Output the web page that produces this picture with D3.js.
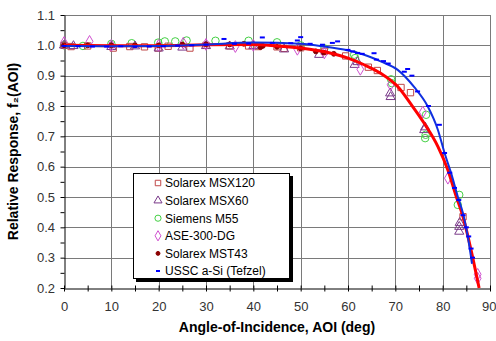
<!DOCTYPE html>
<html>
<head>
<meta charset="utf-8">
<script src="https://cdn.jsdelivr.net/npm/d3@7"></script>
<style>
  body { margin: 0; background: #fff; }
  svg { font-family: "Liberation Sans", Arial, sans-serif; }
</style>
</head>
<body>
<svg width="496" height="341"></svg>
<script>
var msx120 = [[0,1.0],[1.5,0.996],[5,0.998],[10.4,0.991],[13.9,0.996],[17,0.995],[19.9,0.991],[22,0.997],
  [26.6,0.991],[30,1.0],[35,0.998],[39,0.998],[41,0.996],[45,0.995],[46.5,0.99],[50,0.992],[55,0.98],
  [59.5,0.965],[64.3,0.928],[66.2,0.917],[71.2,0.861],[73.2,0.844],[84.3,0.435]];
var msx60 = [[0,1.0],[2,0.998],[10,0.995],[15,0.997],[20,0.99],[25,0.993],[30,0.998],[35,0.997],[40,0.998],
  [46.5,0.987],[53.9,0.969],[61.4,0.936],[62,0.945],[68.9,0.842],[69,0.83],[76.1,0.721],[76.3,0.73],
  [83.5,0.402],[83.5,0.386],[83.6,0.415]];
var m55 = [[0,1.0],[4,0.998],[10,1.005],[14.3,1.007],[19.9,1.009],[21.3,1.013],[23.5,1.013],[25.9,1.016],
  [32,1.015],[39,1.015],[45,1.01],[50,1.0],[55,0.99],[61.3,0.969],[61.5,0.958],[69.1,0.888],[69.3,0.875],
  [76.5,0.771],[76.3,0.694],[76.4,0.705],[83.5,0.507],[83.2,0.474]];
var ase300 = [[0,1.009],[5.4,1.013],[10,1.0],[20,1.0],[25.2,1.007],[30,1.003],[36.2,0.996],[40,1.0],
  [49.3,0.987],[55,0.975],[62.6,0.921],[69,0.87],[75.8,0.78],[81.1,0.562],[87.4,0.232],[87.4,0.245]];
var mst43 = [[0,1.0],[5,1.0],[10,1.0],[15,1.0],[20,1.0],[25,1.003],[30,1.003],[35,1.003],[38,1.005],
  [41.5,0.994],[42,0.998],[45,0.995],[50,0.99],[53.2,0.98],[54.9,0.976],[57,0.972]];
var ussc = [[0,0.998],[3,0.997],[6,0.996],[9,0.996],[12,0.997],[15,0.995],[18,0.996],[21,0.997],[24,0.999],
  [27,1.0],[30,1.002],[33.8,1.021],[36,1.005],[39,1.006],[41.9,1.026],[44,1.008],[47.9,1.007],[49.3,1.016],
  [50,1.027],[52,1.005],[54.6,1.002],[56.7,1.008],[57.8,1.013],[60,0.985],[61,0.98],[62,0.975],[63,0.972],
  [65.5,0.974],[66,0.953],[67.5,0.948],[68.5,0.94],[71.9,0.913],[72.6,0.922],[73.5,0.9],[74.7,0.848],
  [77,0.8],[79.3,0.738],[80.4,0.645],[81.5,0.58],[82.5,0.53],[83.4,0.49],[84.3,0.44],[85,0.4],
  [85.5,0.37],[86,0.33],[86.3,0.3]];

// fitted curves
var redFit = [[0,1.0],[10,0.999],[20,0.999],[30,1.002],[40,1.003],[45,0.998],[50,0.991],[56.4,0.974],[60,0.958],
  [63.4,0.936],[66.9,0.908],[70.5,0.864],[73.3,0.806],[76.1,0.743],[79,0.666],[81.1,0.589],[82.8,0.505],
  [84.3,0.435],[86,0.325],[87.7,0.2]];
var blueFit = [[0,0.998],[10,0.997],[20,0.998],[30,1.003],[40,1.009],[50,1.005],[55,0.996],[60,0.983],
  [63.4,0.969],[66.9,0.947],[70.5,0.919],[74,0.862],[76.8,0.8],[79,0.721],[80.4,0.645],[81.8,0.578],
  [83.2,0.501],[84.3,0.446],[85.3,0.37],[86.2,0.28]];

var xTicks = d3.range(0, 91, 10);
var yTicks = d3.range(0.2, 1.101, 0.1);

var margin = {top: 15, right: 6, bottom: 53, left: 64},
    width = 496 - margin.left - margin.right,
    height = 341 - margin.top - margin.bottom;

var xScale = d3.scaleLinear().domain([0, 90]).range([0, width]);
var yScale = d3.scaleLinear().domain([0.2, 1.1]).range([height, 0]);

var svg = d3.select("svg").append("g")
    .attr("transform", "translate(" + margin.left + "," + margin.top + ")");

// grid
svg.append("g").selectAll("line").data(xTicks.slice(1)).enter().append("line")
    .attr("x1", function(d) { return Math.round(xScale(d)) + 0.5; })
    .attr("x2", function(d) { return Math.round(xScale(d)) + 0.5; })
    .attr("y1", 0).attr("y2", height)
    .style("stroke", "#7a7a7a");
svg.append("g").selectAll("line").data(yTicks.slice(1)).enter().append("line")
    .attr("y1", function(d) { return Math.round(yScale(d)) + 0.5; })
    .attr("y2", function(d) { return Math.round(yScale(d)) + 0.5; })
    .attr("x1", 0).attr("x2", width)
    .style("stroke", "#7a7a7a");

// axes
var xAxis = svg.append("g")
    .attr("transform", "translate(0," + (height + 0.5) + ")")
    .call(d3.axisBottom(xScale).tickValues(d3.range(0, 91, 5)).tickSize(3).tickSizeOuter(0).tickFormat(""));
xAxis.selectAll(".tick line").attr("y1", -3);
var xLab = svg.append("g")
    .attr("transform", "translate(0," + (height + 0.5) + ")")
    .call(d3.axisBottom(xScale).tickValues(xTicks).tickSize(0).tickPadding(13).tickFormat(d3.format("d")))
    .call(function(g) { g.select(".domain").remove(); });
// last label sits at the window edge; pin its right side inside
xLab.selectAll(".tick").filter(function(d) { return d === 90; }).select("text")
    .attr("text-anchor", "end").attr("x", 6);
svg.append("g")
    .attr("transform", "translate(0.5,0)")
    .call(d3.axisLeft(yScale).tickValues(d3.range(0.2, 1.101, 0.05)).tickSize(4).tickSizeOuter(0).tickFormat(""));
svg.append("g")
    .call(d3.axisLeft(yScale).tickValues(yTicks).tickSize(0).tickPadding(9).tickFormat(d3.format(".1f")))
    .call(function(g) { g.select(".domain").remove(); });

svg.selectAll(".domain, .tick line").style("stroke", "#000");
svg.selectAll(".tick text").style("font-size", "13px").style("fill", "#333")
    .style("font-family", "Liberation Sans, Arial, sans-serif");

// markers
var sym = function(type, size) { return d3.symbol().type(type).size(size)(); };
function drawPoints(data, path, stroke, fill, sw) {
  svg.append("g").selectAll("path").data(data).enter().append("path")
      .attr("transform", function(d) { return "translate(" + xScale(d[0]) + "," + yScale(d[1]) + ")"; })
      .attr("d", path)
      .style("fill", fill).style("stroke", stroke).style("stroke-width", sw);
}
drawPoints(m55, sym(d3.symbolCircle, 44), "#44d044", "none", 1);
drawPoints(msx120, sym(d3.symbolSquare, 40), "#c04848", "none", 1);
drawPoints(msx60, sym(d3.symbolTriangle, 36), "#7a3a8a", "none", 1);
drawPoints(ase300, sym(d3.symbolDiamond, 40), "#d050d0", "none", 1);
drawPoints(mst43, sym(d3.symbolCircle, 18), "#8b0000", "#8b0000", 1);

var line = d3.line()
    .x(function(d) { return xScale(d[0]); })
    .y(function(d) { return yScale(d[1]); })
    .curve(d3.curveMonotoneX);

svg.append("path").datum(redFit).attr("d", line)
    .style("fill", "none").style("stroke", "#ff0000").style("stroke-width", 3);
svg.append("path").datum(blueFit).attr("d", line)
    .style("fill", "none").style("stroke", "#1030e0").style("stroke-width", 2);

svg.append("g").selectAll("line").data(ussc).enter().append("line")
    .attr("x1", function(d) { return xScale(d[0]) - 2.5; })
    .attr("x2", function(d) { return xScale(d[0]) + 2.5; })
    .attr("y1", function(d) { return yScale(d[1]); })
    .attr("y2", function(d) { return yScale(d[1]); })
    .style("stroke", "#0000ff").style("stroke-width", 2);

// legend
var legendNames = ["Solarex MSX120", "Solarex MSX60", "Siemens M55", "ASE-300-DG", "Solarex MST43", "USSC a-Si (Tefzel)"];
var lx = 133 - margin.left, ly = 173 - margin.top;
svg.append("rect").attr("x", lx + 3).attr("y", ly + 3).attr("width", 157).attr("height", 106).style("fill", "#000");
svg.append("rect").attr("x", lx + 0.5).attr("y", ly + 0.5).attr("width", 156).attr("height", 105)
    .style("fill", "#fff").style("stroke", "#000");
var leg = svg.append("g").selectAll("g").data(legendNames).enter().append("g")
    .attr("transform", function(d, i) { return "translate(" + (lx + 25) + "," + (ly + 10 + i * 17.6) + ")"; });
leg.append("text").attr("x", 7).attr("dy", "0.36em").text(function(d) { return d; })
    .style("font-size", "12px").style("fill", "#000");
var legMarks = [
  {p: sym(d3.symbolSquare, 30), s: "#c04848", f: "none"},
  {p: sym(d3.symbolTriangle, 28), s: "#7a3a8a", f: "none"},
  {p: sym(d3.symbolCircle, 30), s: "#44d044", f: "none"},
  {p: sym(d3.symbolDiamond, 30), s: "#d050d0", f: "none"},
  {p: sym(d3.symbolCircle, 12), s: "#8b0000", f: "#8b0000"}
];
leg.each(function(d, i) {
  var g = d3.select(this);
  if (i < 5) {
    g.append("path").attr("d", legMarks[i].p).style("stroke", legMarks[i].s).style("fill", legMarks[i].f);
  } else {
    g.append("line").attr("x1", -2).attr("x2", 2).style("stroke", "#0000ff").style("stroke-width", 2);
  }
});

// axis titles
svg.append("text")
    .attr("x", width / 2).attr("y", height + 44)
    .attr("text-anchor", "middle")
    .style("font-size", "14px").style("font-weight", "bold")
    .text("Angle-of-Incidence, AOI (deg)");
svg.append("text")
    .attr("transform", "translate(" + (-46) + "," + (height / 2) + ") rotate(-90)")
    .attr("text-anchor", "middle")
    .style("font-size", "14px").style("font-weight", "bold")
    .text("Relative Response, f\u2082(AOI)");
</script>
</body>
</html>
